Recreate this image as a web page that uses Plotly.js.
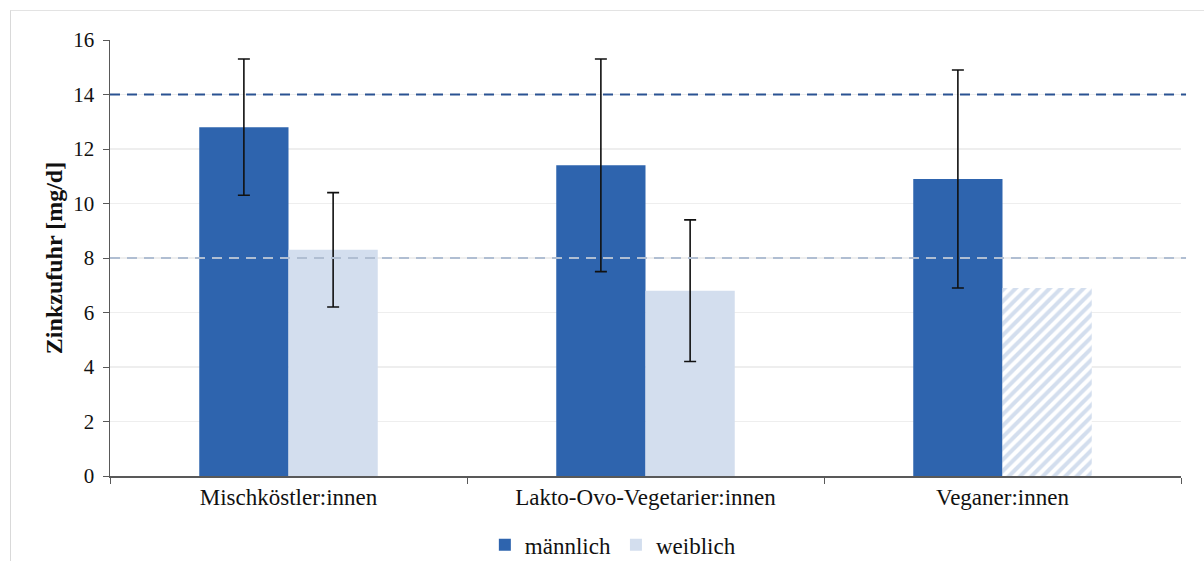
<!DOCTYPE html>
<html>
<head>
<meta charset="utf-8">
<script src="https://cdn.plot.ly/plotly-3.0.1.min.js"></script>
<style>
  html, body { margin: 0; padding: 0; background: #ffffff; }
  #wrap { position: relative; width: 1204px; height: 561px; }
  #chart { width: 1204px; height: 561px; }
  #frame {
    position: absolute; left: 10px; top: 10px; width: 1200px; height: 560px;
    border-left: 1px solid #d9d9d9; border-top: 1px solid #e3e3e3;
    pointer-events: none;
  }
</style>
</head>
<body>
<div id="wrap">
  <div id="chart"></div>
  <div id="frame"></div>
</div>
<script>
// Diet groups and mean zinc intake (mg/d) with standard deviations
const groups = ["Mischköstler:innen", "Lakto-Ovo-Vegetarier:innen", "Veganer:innen"];
const maleMean = [12.8, 11.4, 10.9];
const maleSD = [2.5, 3.9, 4.0];
const femaleMean = [8.3, 6.8, 6.9];
const femaleSD = [2.1, 2.6, null];   // no SD reported for vegan women
// Reference intake levels (mg/d)
const refMale = 14;
const refFemale = 8;

const serif = "Liberation Serif, Times New Roman, serif";
const darkBlue = "#2E64AE";
const lightBlue = "#D3DEEE";

// missing SD -> NaN so no error bar is drawn for that bar
const toErr = arr => arr.map(v => (v === null ? NaN : v));

const traces = [
  {
    type: "bar", name: "männlich", x: groups, y: maleMean,
    marker: { color: darkBlue, line: { width: 0 } },
    error_y: { type: "data", array: toErr(maleSD), visible: true, color: "#111111", thickness: 1.6, width: 6 },
    hoverinfo: "y"
  },
  {
    type: "bar", name: "weiblich", x: groups, y: femaleMean,
    marker: {
      color: lightBlue, line: { width: 0 },
      pattern: { shape: ["", "", "/"], fgcolor: lightBlue, bgcolor: "#ffffff", size: 8, solidity: 0.5 }
    },
    error_y: { type: "data", array: toErr(femaleSD), visible: true, color: "#111111", thickness: 1.6, width: 6 },
    hoverinfo: "y"
  }
];

const layout = {
  width: 1204, height: 561,
  margin: { l: 110, r: 23, t: 40, b: 85, autoexpand: false },
  paper_bgcolor: "rgba(0,0,0,0)",
  plot_bgcolor: "#ffffff",
  barmode: "group",
  bargap: 0.5,
  bargroupgap: 0,
  font: { family: serif, size: 21, color: "#111111" },
  showlegend: true,
  legend: {
    orientation: "h", x: 0.35, xanchor: "left", y: -0.158, yanchor: "middle",
    font: { family: serif, size: 23, color: "#111111" }, itemwidth: 30
  },
  xaxis: {
    type: "category", tickson: "boundaries", ticks: "outside", ticklen: 6, tickcolor: "#595959",
    showline: true, linecolor: "#595959", linewidth: 1.5, showgrid: false, automargin: false,
    tickfont: { family: serif, size: 23, color: "#111111" }
  },
  yaxis: {
    range: [0, 16], dtick: 2, ticks: "outside", ticklen: 6, tickcolor: "#595959",
    showline: true, linecolor: "#595959", linewidth: 1.5, automargin: false,
    showgrid: true, gridcolor: "#eeeeee", gridwidth: 1.5, zeroline: false,
    ticklabelstandoff: 4,
    tickfont: { family: serif, size: 21, color: "#111111" },
    title: { text: "<b>Zinkzufuhr [mg/d]</b>", font: { family: serif, size: 24, color: "#111111" }, standoff: 4 }
  },
  shapes: [
    { type: "line", xref: "paper", yref: "y", x0: 0, x1: 1.0047, y0: refMale, y1: refMale,
      line: { color: "#2A5292", width: 2, dash: "10px,7px" }, layer: "above" },
    { type: "line", xref: "paper", yref: "y", x0: 0, x1: 1.0047, y0: refFemale, y1: refFemale,
      line: { color: "#B0BED2", width: 2, dash: "10px,7px" }, layer: "above" }
  ]
};

Plotly.newPlot("chart", traces, layout, { displayModeBar: false, staticPlot: true });
</script>
</body>
</html>
